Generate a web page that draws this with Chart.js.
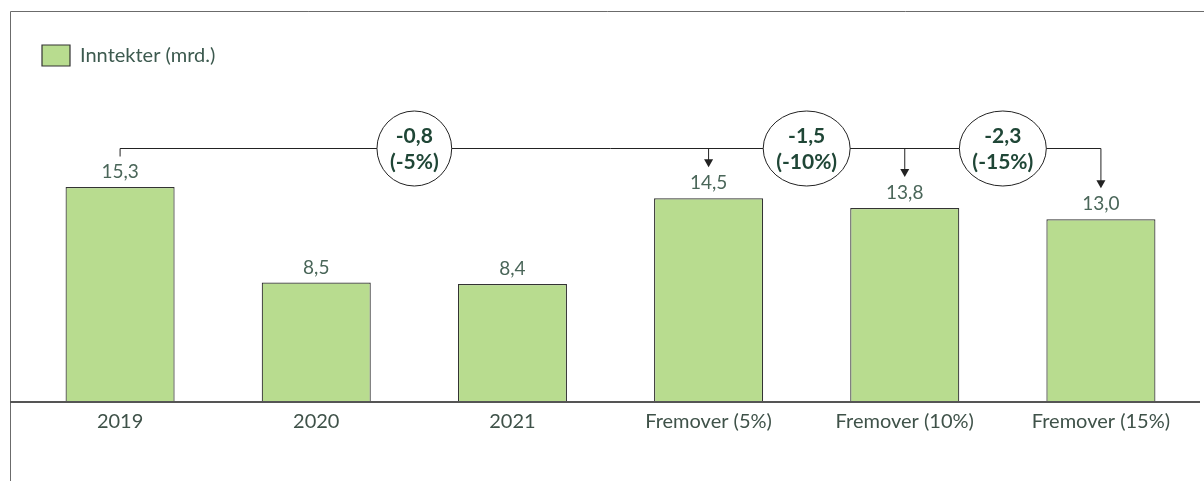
<!DOCTYPE html>
<html>
<head>
<meta charset="utf-8">
<script src="https://cdn.jsdelivr.net/npm/chart.js@4"></script>
<style>
  html, body { margin: 0; padding: 0; background: #fff; }
  #wrap { width: 1204px; height: 481px; }
</style>
</head>
<body>
<div id="wrap"><canvas id="revenueChart" width="1204" height="481"></canvas></div>
<script>
// Chart data
const categories = ['2019', '2020', '2021', 'Fremover (5%)', 'Fremover (10%)', 'Fremover (15%)'];
const revenue = [15.3, 8.5, 8.4, 14.5, 13.8, 13.0];
const seriesName = 'Inntekter (mrd.)';
// bars that get an arrow from the 2019 bracket
const scenarioIndex = [3, 4, 5];
// bubbles sit between bar i and bar i+1
const bubbleAfter = [1, 3, 4];
const changeLabels = ['-0,8', '-1,5', '-2,3'];
const changePct = ['(-5%)', '(-10%)', '(-15%)'];

const FONT = 'Lato, "Noto Sans", sans-serif';
const BAR_GREEN = '#b8dc8f';

const fmt = v => v.toFixed(1).replace('.', ',');

function arrowDown(ctx, x, y1, y2) {
    ctx.beginPath();
    ctx.moveTo(x, y1);
    ctx.lineTo(x, y2 - 7);
    ctx.stroke();
    ctx.beginPath();
    ctx.moveTo(x - 4.5, y2 - 8);
    ctx.lineTo(x + 4.5, y2 - 8);
    ctx.lineTo(x, y2);
    ctx.closePath();
    ctx.fill();
}

// Frame, baseline, value labels and the change bracket
const annotations = {
    id: 'annotations',
    beforeDraw(chart) {
        const ctx = chart.ctx;
        ctx.save();
        ctx.strokeStyle = '#6b6b6b';
        ctx.lineWidth = 1;
        ctx.beginPath();
        ctx.moveTo(10.5, chart.height);
        ctx.lineTo(10.5, 11.5);
        ctx.lineTo(chart.width, 11.5);
        ctx.stroke();
        ctx.restore();
    },
    afterDraw(chart) {
        const ctx = chart.ctx;
        const bars = chart.getDatasetMeta(0).data;
        const area = chart.chartArea;
        ctx.save();

        // baseline
        ctx.strokeStyle = '#555';
        ctx.lineWidth = 2;
        ctx.beginPath();
        ctx.moveTo(10, area.bottom);
        ctx.lineTo(area.right + 1, area.bottom);
        ctx.stroke();

        // value labels
        ctx.fillStyle = '#4a6659';
        ctx.font = '19px ' + FONT;
        ctx.textAlign = 'center';
        ctx.textBaseline = 'middle';
        bars.forEach((bar, i) => {
            ctx.fillText(fmt(revenue[i]), bar.x, bar.y - 15);
        });

        // bracket
        const topBar = Math.min(...bars.map(b => b.y));
        const lineY = Math.round(topBar - 39) + 0.5;
        const last = bars[bars.length - 1];
        ctx.strokeStyle = '#222';
        ctx.fillStyle = '#222';
        ctx.lineWidth = 1;
        ctx.beginPath();
        ctx.moveTo(bars[0].x, lineY + 8);
        ctx.lineTo(bars[0].x, lineY);
        ctx.lineTo(last.x, lineY);
        ctx.stroke();
        scenarioIndex.forEach(i => {
            arrowDown(ctx, bars[i].x, lineY, bars[i].y - 31);
        });

        // change bubbles between bars
        ctx.font = 'bold 21px ' + FONT;
        bubbleAfter.forEach((idx, k) => {
            const cx = (bars[idx].x + bars[idx + 1].x) / 2;
            const w = Math.max(ctx.measureText(changeLabels[k]).width, ctx.measureText(changePct[k]).width);
            const rx = Math.max(37, w / 2 + 13);
            const ry = 37.5;
            ctx.beginPath();
            ctx.ellipse(cx, lineY, rx, ry, 0, 0, Math.PI * 2);
            ctx.fillStyle = '#fff';
            ctx.fill();
            ctx.strokeStyle = '#222';
            ctx.stroke();
            ctx.fillStyle = '#1f4636';
            ctx.fillText(changeLabels[k], cx, lineY - 12);
            ctx.fillText(changePct[k], cx, lineY + 14);
        });
        ctx.restore();
    }
};

function createRevenueChart() {
    const ctx = document.getElementById('revenueChart');
    new Chart(ctx, {
        type: 'bar',
        data: {
            labels: categories,
            datasets: [{
                label: seriesName,
                data: revenue,
                backgroundColor: BAR_GREEN,
                borderColor: '#333',
                borderWidth: 1.2,
                categoryPercentage: 1,
                barPercentage: 0.556
            }]
        },
        options: {
            responsive: false,
            animation: false,
            layout: { padding: { top: 25, left: 22, right: 5, bottom: 39 } },
            plugins: {
                tooltip: { enabled: false },
                legend: {
                    position: 'top',
                    align: 'start',
                    labels: {
                        boxWidth: 28,
                        boxHeight: 21,
                        padding: 20,
                        color: '#3d5a4f',
                        font: { family: FONT, size: 20 }
                    }
                }
            },
            scales: {
                x: {
                    grid: { display: false, drawTicks: false },
                    border: { display: false },
                    ticks: {
                        padding: 8,
                        color: '#3f5249',
                        font: { family: FONT, size: 20 },
                        maxRotation: 0
                    }
                },
                y: {
                    display: false,
                    min: 0,
                    max: 23.2
                }
            }
        },
        plugins: [annotations]
    });
}

createRevenueChart();
</script>
</body>
</html>
